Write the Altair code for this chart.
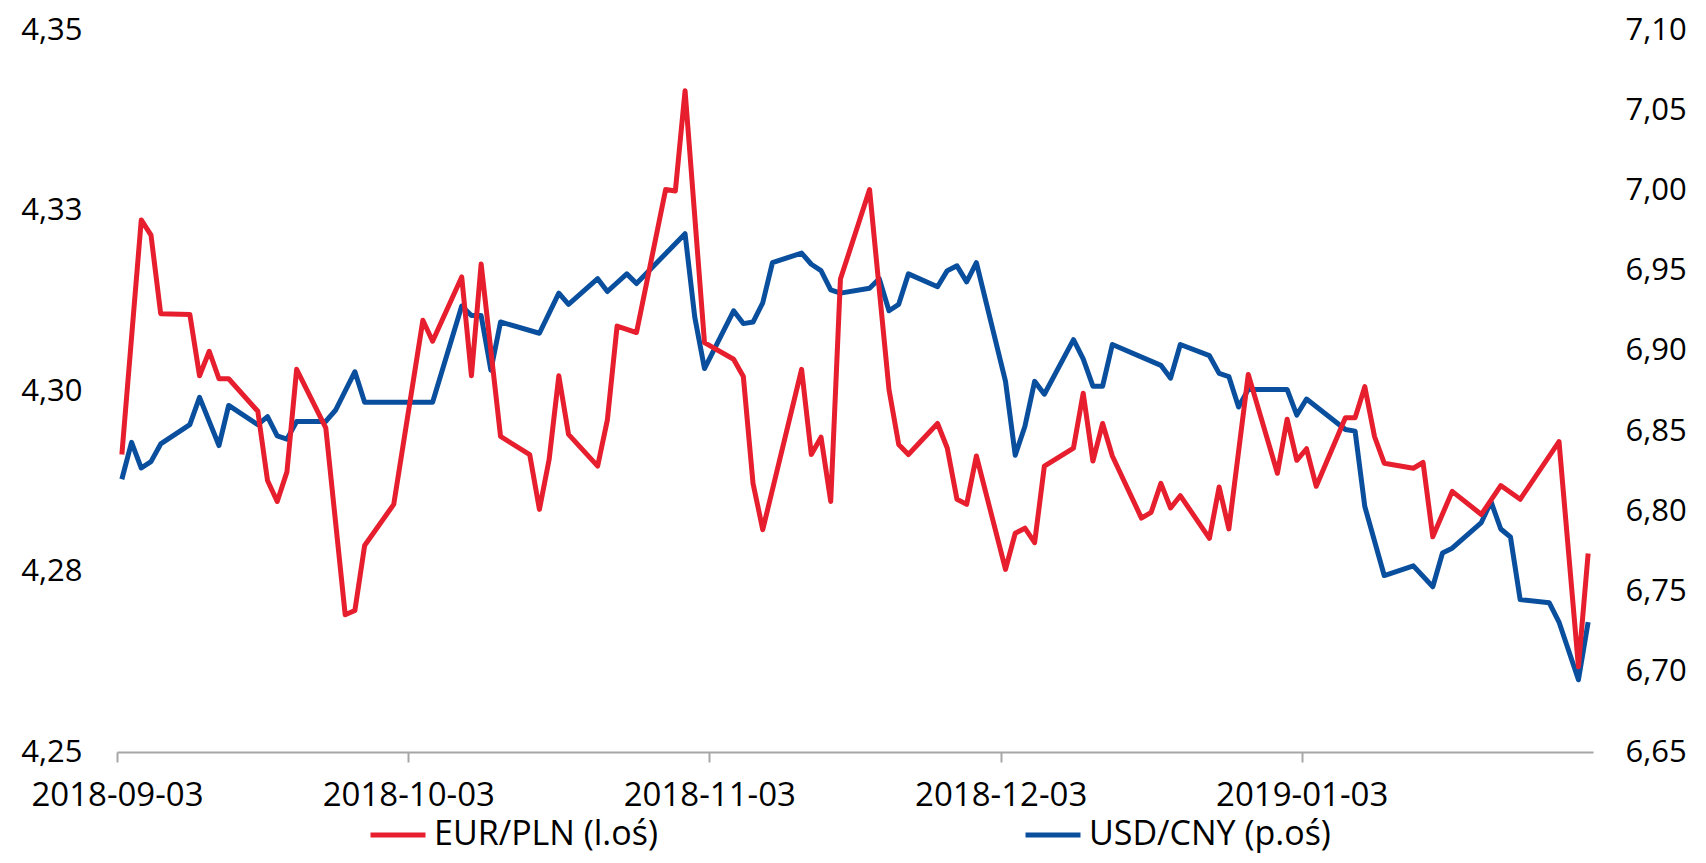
import altair as alt
import pandas as pd

# ---------------- data ----------------
eur_dates = [
    "2018-09-03", "2018-09-05", "2018-09-06", "2018-09-07", "2018-09-10", "2018-09-11",
    "2018-09-12", "2018-09-13", "2018-09-14", "2018-09-17", "2018-09-18", "2018-09-19",
    "2018-09-20", "2018-09-21", "2018-09-24", "2018-09-26", "2018-09-27", "2018-09-28",
    "2018-10-01", "2018-10-04", "2018-10-05", "2018-10-08", "2018-10-09", "2018-10-10",
    "2018-10-12", "2018-10-15", "2018-10-16", "2018-10-17", "2018-10-18", "2018-10-19",
    "2018-10-22", "2018-10-23", "2018-10-24", "2018-10-26", "2018-10-29", "2018-10-30",
    "2018-10-31", "2018-11-02", "2018-11-05", "2018-11-06", "2018-11-07", "2018-11-08",
    "2018-11-12", "2018-11-13", "2018-11-14", "2018-11-15", "2018-11-16", "2018-11-19",
    "2018-11-21", "2018-11-22", "2018-11-23", "2018-11-26", "2018-11-27", "2018-11-28",
    "2018-11-29", "2018-11-30", "2018-12-03", "2018-12-04", "2018-12-05", "2018-12-06",
    "2018-12-07", "2018-12-10", "2018-12-11", "2018-12-12", "2018-12-13", "2018-12-14",
    "2018-12-17", "2018-12-18", "2018-12-19", "2018-12-20", "2018-12-21", "2018-12-24",
    "2018-12-25", "2018-12-26", "2018-12-28", "2018-12-31", "2019-01-01", "2019-01-02",
    "2019-01-03", "2019-01-04", "2019-01-07", "2019-01-08", "2019-01-09", "2019-01-10",
    "2019-01-11", "2019-01-14", "2019-01-15", "2019-01-16", "2019-01-18", "2019-01-21",
    "2019-01-23", "2019-01-25", "2019-01-29", "2019-01-31", "2019-02-01",
]
eur_values = [
    4.2912, 4.3237, 4.3216, 4.3107, 4.3106, 4.3021,
    4.3055, 4.3017, 4.3017, 4.2972, 4.2876, 4.2847,
    4.2888, 4.3030, 4.2949, 4.2690, 4.2696, 4.2786,
    4.2843, 4.3098, 4.3069, 4.3158, 4.3021, 4.3176,
    4.2937, 4.2912, 4.2836, 4.2905, 4.3021, 4.2940,
    4.2896, 4.2960, 4.3090, 4.3081, 4.3279, 4.3277,
    4.3416, 4.3067, 4.3044, 4.3020, 4.2872, 4.2808,
    4.3030, 4.2912, 4.2936, 4.2847, 4.3155, 4.3279,
    4.3002, 4.2926, 4.2912, 4.2955, 4.2921, 4.2850,
    4.2843, 4.2910, 4.2753, 4.2803, 4.2810, 4.2790,
    4.2896, 4.2921, 4.2997, 4.2903, 4.2955, 4.2910,
    4.2824, 4.2832, 4.2872, 4.2838, 4.2855, 4.2796,
    4.2867, 4.2809, 4.3023, 4.2886, 4.2961, 4.2904,
    4.2920, 4.2868, 4.2963, 4.2963, 4.3006, 4.2937,
    4.2900, 4.2893, 4.2901, 4.2798, 4.2861, 4.2829,
    4.2869, 4.2850, 4.2930, 4.2618, 4.2775,
]

cny_dates = [
    "2018-09-03", "2018-09-04", "2018-09-05", "2018-09-06", "2018-09-07", "2018-09-10",
    "2018-09-11", "2018-09-13", "2018-09-14", "2018-09-17", "2018-09-18", "2018-09-19",
    "2018-09-20", "2018-09-21", "2018-09-24", "2018-09-25", "2018-09-27", "2018-09-28",
    "2018-10-05", "2018-10-08", "2018-10-09", "2018-10-10", "2018-10-11", "2018-10-12",
    "2018-10-16", "2018-10-18", "2018-10-19", "2018-10-22", "2018-10-23", "2018-10-25",
    "2018-10-26", "2018-10-31", "2018-11-01", "2018-11-02", "2018-11-05", "2018-11-06",
    "2018-11-07", "2018-11-08", "2018-11-09", "2018-11-12", "2018-11-13", "2018-11-14",
    "2018-11-15", "2018-11-16", "2018-11-19", "2018-11-20", "2018-11-21", "2018-11-22",
    "2018-11-23", "2018-11-26", "2018-11-27", "2018-11-28", "2018-11-29", "2018-11-30",
    "2018-12-03", "2018-12-04", "2018-12-05", "2018-12-06", "2018-12-07", "2018-12-10",
    "2018-12-11", "2018-12-12", "2018-12-13", "2018-12-14", "2018-12-19", "2018-12-20",
    "2018-12-21", "2018-12-24", "2018-12-25", "2018-12-26", "2018-12-27", "2018-12-28",
    "2019-01-01", "2019-01-02", "2019-01-03", "2019-01-07", "2019-01-08", "2019-01-09",
    "2019-01-11", "2019-01-14", "2019-01-16", "2019-01-17", "2019-01-18", "2019-01-21",
    "2019-01-22", "2019-01-23", "2019-01-24", "2019-01-25", "2019-01-28", "2019-01-29",
    "2019-01-31", "2019-02-01",
]
cny_values = [
    6.820, 6.843, 6.827, 6.831, 6.842, 6.854,
    6.871, 6.841, 6.866, 6.854, 6.859, 6.847,
    6.845, 6.856, 6.856, 6.863, 6.887, 6.868,
    6.868, 6.928, 6.922, 6.922, 6.888, 6.918,
    6.911, 6.936, 6.929, 6.945, 6.937, 6.948,
    6.942, 6.973, 6.921, 6.889, 6.925, 6.917,
    6.918, 6.930, 6.955, 6.961, 6.954, 6.950,
    6.938, 6.936, 6.939, 6.945, 6.925, 6.929,
    6.948, 6.940, 6.950, 6.953, 6.943, 6.955,
    6.881, 6.835, 6.853, 6.881, 6.873, 6.907,
    6.895, 6.878, 6.878, 6.904, 6.891, 6.883,
    6.904, 6.897, 6.886, 6.884, 6.865, 6.876,
    6.876, 6.860, 6.870, 6.851, 6.850, 6.803,
    6.760, 6.766, 6.753, 6.774, 6.777, 6.793,
    6.806, 6.789, 6.784, 6.745, 6.743, 6.731,
    6.695, 6.731,
]

eur_name = "EUR/PLN (l.oś)"
cny_name = "USD/CNY (p.oś)"

x_tick_dates = ["2018-09-03", "2018-10-03", "2018-11-03", "2018-12-03", "2019-01-03"]
x_domain = ["2018-09-03", "2019-02-02"]
left_ticks = [4.25, 4.275, 4.30, 4.325, 4.35]
right_ticks = [6.65, 6.70, 6.75, 6.80, 6.85, 6.90, 6.95, 7.00, 7.05, 7.10]

RED = "#E61E2D"
BLUE = "#0A4F9E"
FONT = "Open Sans"
FS_Y = 31
FS_X = 33
FS_LEG = 34

# ---------------- build tables ----------------
def to_dt(s):
    y, m, d = (int(p) for p in s.split("-"))
    return alt.DateTime(year=y, month=m, date=d)

half_day = pd.Timedelta(hours=12)
eur_df = pd.DataFrame({
    "date": pd.to_datetime(eur_dates) + half_day,
    "value": eur_values,
    "series": eur_name,
})
cny_df = pd.DataFrame({
    "date": pd.to_datetime(cny_dates) + half_day,
    "value": cny_values,
    "series": cny_name,
})

comma_expr = "replace(format(datum.value + 0.000001, '.2f'), '.', ',')"

x_axis = alt.Axis(
    values=[to_dt(d) for d in x_tick_dates],
    format="%Y-%m-%d",
    title=None,
    grid=False,
    domain=True,
    ticks=True,
    tickSize=10,
    labelPadding=17,
    labelFlush=False,
    labelFontSize=FS_X,
    labelFont=FONT,
    labelColor="#000000",
)
x_scale = alt.Scale(domain=[to_dt(d) for d in x_domain])

line_style = dict(strokeWidth=5, strokeJoin="round", strokeCap="butt")


def legend_at(x):
    return alt.Legend(
        orient="none", legendX=x, legendY=775, title=None,
        symbolType="stroke", symbolSize=3025, symbolStrokeWidth=5,
        labelFontSize=FS_LEG, labelFont=FONT, labelColor="#000000", labelOffset=6,
        labelLimit=0, direction="horizontal",
    )


usd_line = alt.Chart(cny_df).mark_line(**line_style).encode(
    x=alt.X("date:T", scale=x_scale, axis=x_axis),
    y=alt.Y(
        "value:Q",
        scale=alt.Scale(domain=[6.65, 7.10], nice=False, zero=False),
        axis=alt.Axis(
            orient="right",
            values=right_ticks,
            labelExpr=comma_expr,
            title=None,
            grid=False,
            domain=False,
            ticks=False,
            labelPadding=32,
            labelFontSize=FS_Y,
            labelFont=FONT,
            labelColor="#000000",
        ),
    ),
    color=alt.Color(
        "series:N",
        scale=alt.Scale(domain=[cny_name], range=[BLUE]),
        legend=legend_at(906),
    ),
)

eur_line = alt.Chart(eur_df).mark_line(**line_style).encode(
    x=alt.X("date:T", scale=x_scale, axis=x_axis),
    y=alt.Y(
        "value:Q",
        scale=alt.Scale(domain=[4.25, 4.35], nice=False, zero=False),
        axis=alt.Axis(
            orient="left",
            values=left_ticks,
            labelExpr=comma_expr,
            title=None,
            grid=False,
            domain=False,
            ticks=False,
            labelPadding=35,
            labelFontSize=FS_Y,
            labelFont=FONT,
            labelColor="#000000",
        ),
    ),
    color=alt.Color(
        "series:N",
        scale=alt.Scale(domain=[eur_name], range=[RED]),
        legend=legend_at(251),
    ),
)

chart = (
    alt.layer(usd_line, eur_line)
    .resolve_scale(y="independent", color="independent")
    .resolve_legend(color="independent")
    .properties(
        width=1476,
        height=722,
        padding={"left": 117, "top": 30, "right": 113, "bottom": 111},
        autosize=alt.AutoSizeParams(type="none"),
        background="white",
    )
    .configure_view(stroke=None)
    .configure_axis(
        domainColor="#A6A6A6",
        domainWidth=2,
        tickColor="#A6A6A6",
        tickWidth=2,
    )
)

chart.save("out.html", embed_options={"renderer": "svg", "actions": False})
